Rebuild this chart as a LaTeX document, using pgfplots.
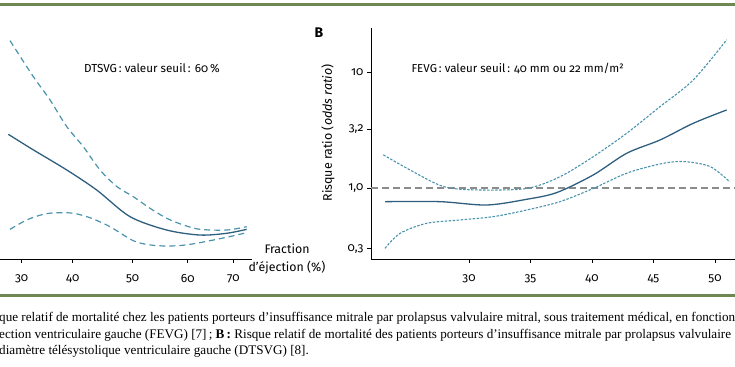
\documentclass[border=0pt]{standalone}
\usepackage{fontspec}
\setmainfont{Fira Sans}[Numbers=OldStyle]
\newfontfamily\capfont{Liberation Serif}
\usepackage{pgfplots}
\pgfplotsset{compat=1.18}
\definecolor{solidc}{HTML}{2F5F7F}
\definecolor{dashc}{HTML}{4A93AC}
\definecolor{rulec}{HTML}{6F8752}
\definecolor{grayd}{HTML}{8C8C8C}
\begin{document}
\begin{tikzpicture}
\useasboundingbox (0,0) rectangle (735bp,367bp);
% green rules
\fill[rulec] (0,360.5bp) rectangle (735bp,363.5bp);
\fill[rulec] (0,69.5bp) rectangle (735bp,72.5bp);
% left panel (DTSVG)
\begin{axis}[
  at={(0bp,108bp)}, anchor=south west, scale only axis,
  width=252bp, height=231bp,
  xmin=25.9, xmax=73.53, ymode=log, ymin=0.2443, ymax=23.9,
  axis x line*=bottom, axis y line=none, ytick=\empty,
  xtick={30,39.64,50.98,61.38,70}, xticklabels={30,40,50,60,70},
  tick align=outside, major tick length=4bp,
  tick style={black, line width=0.6bp},
  axis line style={line width=0.7bp},
  /pgf/number format/assume math mode=true,
  xticklabel style={font=\fontsize{12}{14}\selectfont, yshift=-8bp},
]
\addplot[solidc, line width=1.3bp, smooth] coordinates {
(27.47,2.90) (32.19,2.13) (38.51,1.43) (44.18,0.96) (50.47,0.566) (57.41,0.434) (63.71,0.393) (68.75,0.407) (72.53,0.44)};
\addplot[dashc, line width=1.2bp, smooth, dash pattern=on 6bp off 4bp] coordinates {
(27.79,18.6) (32.19,9.11) (35.35,5.74) (38.51,3.38) (41.64,2.27) (44.8,1.43) (47.96,1.03) (51.1,0.841) (54.25,0.668) (57.41,0.548) (60.55,0.48) (63.71,0.44) (68.75,0.434) (72.53,0.464)};
\addplot[dashc, line width=1.2bp, smooth, dash pattern=on 6bp off 4bp] coordinates {
(27.79,0.44) (30.95,0.53) (34.08,0.593) (36.62,0.612) (39.75,0.605) (42.9,0.554) (46.68,0.464) (51.1,0.351) (54.25,0.323) (57.41,0.316) (60.55,0.321) (63.71,0.338) (68.75,0.376) (72.53,0.412)};
\end{axis}
% right panel (FEVG)
\begin{axis}[
  at={(371bp,108bp)}, anchor=south west, scale only axis,
  width=364bp, height=231bp,
  xmin=22.03, xmax=51.63, ymode=log, ymin=0.2443, ymax=23.9,
  axis x line*=bottom, axis y line*=left,
  xtick={30,35,40,45,50},
  ytick={0.3,1,3.2,10}, yticklabels={{0,3},{1,0},{3,2},10},
  tick align=outside, major tick length=4bp,
  tick style={black, line width=0.6bp},
  axis line style={line width=0.7bp},
  /pgf/number format/assume math mode=true,
  xticklabel style={font=\fontsize{12}{14}\selectfont, yshift=-8bp},
  yticklabel style={font=\fontsize{12}{14}\selectfont},
]
\addplot[grayd, line width=1.2bp, dash pattern=on 7bp off 4bp] coordinates {(22.03,1) (51.63,1)};
\addplot[solidc, line width=1.3bp, smooth] coordinates {
(23.17,0.762) (27.64,0.762) (31.44,0.713) (34.69,0.799) (37.13,0.912) (40.1,1.294) (42.82,1.99) (45.53,2.59) (48.24,3.61) (50.95,4.70)};
\addplot[dashc, line width=1.1bp, smooth, dash pattern=on 2.5bp off 1.5bp] coordinates {
(23.03,1.93) (25.2,1.43) (27.9,1.03) (30.6,0.962) (34.69,0.99) (37.4,1.25) (40.1,1.86) (42.82,2.96) (45.53,5.02) (48.24,8.53) (50.95,18.9)};
\addplot[dashc, line width=1.1bp, smooth, dash pattern=on 2.5bp off 1.5bp] coordinates {
(23.17,0.302) (24.4,0.407) (26.56,0.496) (29.27,0.53) (31.98,0.566) (34.69,0.646) (37.4,0.762) (40.1,0.99) (42.82,1.34) (45.53,1.61) (47.42,1.69) (49.6,1.53) (51.2,1.13)};
\end{axis}
% texts
\node[font=\fontsize{11.7}{13}\selectfont] at (152bp,299bp) {DTSVG\,: valeur seuil\,: 60\,\%};
\node[font=\fontsize{11.6}{13}\selectfont, anchor=west] at (408bp,299bp) {FEVG\,: valeur seuil\,: 40 mm ou 22 mm/m²};
\node[font=\bfseries\fontsize{14}{16}\selectfont] at (319bp,334bp) {B};
\node[font=\fontsize{12.5}{14}\selectfont, rotate=90] at (328bp,234bp) {Risque ratio (\textit{odds ratio})};
\node[font=\fontsize{12.4}{18}\selectfont, align=center] at (287bp,108bp) {Fraction\\d’éjection (\%)};
% caption
\node[font=\capfont\fontsize{13.2}{15}\selectfont, anchor=west, inner sep=0pt] at (-1bp,49bp) {que relatif de mortalité chez les patients porteurs d’insuffisance mitrale par prolapsus valvulaire mitral, sous traitement médical, en fonction};
\node[font=\capfont\fontsize{13.2}{15}\selectfont, anchor=west, inner sep=0pt] at (-1bp,32bp) {ection ventriculaire gauche (FEVG) [7]\,; \textbf{B\,:} Risque relatif de mortalité des patients porteurs d’insuffisance mitrale par prolapsus valvulaire};
\node[font=\capfont\fontsize{13.2}{15}\selectfont, anchor=west, inner sep=0pt] at (-1bp,16bp) {diamètre télésystolique ventriculaire gauche (DTSVG) [8].};
\end{tikzpicture}
\end{document}
